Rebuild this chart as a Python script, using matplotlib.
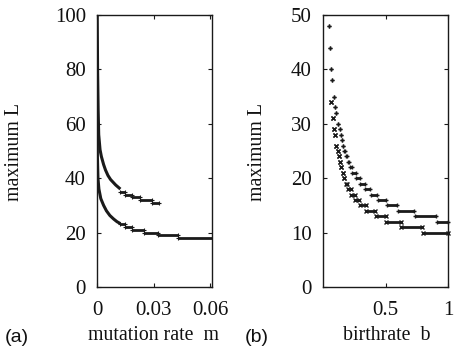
import numpy as np
import matplotlib
matplotlib.use("Agg")
import matplotlib.pyplot as plt

# ---- panel (a): maximum L vs mutation rate m ----
# steep part read as points along the curve
a_up_m = [0.0001, 0.0003, 0.0006, 0.0009, 0.0016, 0.0023, 0.0035, 0.0045, 0.0058, 0.0072, 0.0099, 0.0124]
a_up_L = [100, 80, 65, 56, 50.5, 48, 45, 43, 41, 39.5, 37.5, 36]
# flat steps: level, m start, m end
a_up_step_L = [35, 34, 33, 32, 31]
a_up_step_m0 = [0.0124, 0.0151, 0.0188, 0.0230, 0.0290]
a_up_step_m1 = [0.0151, 0.0188, 0.0230, 0.0290, 0.0331]

a_lo_m = [0.0001, 0.0002, 0.0005, 0.0010, 0.0020, 0.0035, 0.0050, 0.0068, 0.0088, 0.0106, 0.0124]
a_lo_L = [62, 48, 40, 36, 32.5, 30, 28, 26.3, 25, 24, 23.3]
a_lo_step_L = [23, 22, 21, 20, 19, 18]
a_lo_step_m0 = [0.0124, 0.0151, 0.0188, 0.0250, 0.0323, 0.0430]
a_lo_step_m1 = [0.0151, 0.0188, 0.0250, 0.0323, 0.0430, 0.0615]

# ---- panel (b): maximum L vs birthrate b ----
b_plus_L = [48, 44, 40, 38, 35, 33, 32, 30, 29, 28, 27, 26, 25, 24, 23,
            22, 21, 20, 19, 18, 17, 16, 15, 14, 13, 12]
b_plus_lo = [0.049, 0.055, 0.0625, 0.073, 0.086, 0.096, 0.107, 0.120, 0.133, 0.141, 0.151, 0.159,
             0.170, 0.183, 0.197, 0.212, 0.235, 0.262, 0.297, 0.338, 0.380, 0.440, 0.510,
             0.600, 0.735, 0.915]
b_plus_hi = [0.049, 0.055, 0.0625, 0.073, 0.086, 0.096, 0.107, 0.120, 0.133, 0.141, 0.151, 0.159,
             0.178, 0.192, 0.209, 0.232, 0.262, 0.295, 0.335, 0.378, 0.435, 0.505, 0.595,
             0.730, 0.900, 1.000]

b_x_L = [34, 31, 29, 28, 26, 25, 24, 23, 22, 21, 20, 19, 18, 17, 16, 15, 14, 13, 12, 11, 10]
b_x_lo = [0.065, 0.076, 0.086, 0.096, 0.107, 0.117, 0.128, 0.138, 0.146, 0.156, 0.169,
          0.183, 0.198, 0.225, 0.255, 0.293, 0.345, 0.420, 0.500, 0.620, 0.800]
b_x_hi = [0.065, 0.076, 0.086, 0.096, 0.107, 0.117, 0.128, 0.138, 0.146, 0.156, 0.169,
          0.195, 0.222, 0.252, 0.290, 0.342, 0.415, 0.500, 0.620, 0.795, 1.000]

ink = '#1a1a1a'
txt = '#111111'
serif = ['Liberation Serif', 'DejaVu Serif']
sans = ['Liberation Sans', 'DejaVu Sans']

fig = plt.figure(figsize=(4.54, 3.49), dpi=100)
ax1 = fig.add_axes([0.2137, 0.1777, 0.2533, 0.7793])
ax2 = fig.add_axes([0.7115, 0.1777, 0.2753, 0.7793])

# panel a
ax1.plot(a_up_m, a_up_L, '-', color=ink, lw=2.2, solid_capstyle='butt')
ax1.plot(a_lo_m, a_lo_L, '-', color=ink, lw=2.2, solid_capstyle='butt')
for L, m0, m1 in zip(a_up_step_L, a_up_step_m0, a_up_step_m1):
    ax1.plot([m0, m1], [L, L], '-', marker='+', ms=3, mew=0.8, color=ink, lw=2.0,
             solid_capstyle='butt')
for L, m0, m1 in zip(a_lo_step_L, a_lo_step_m0, a_lo_step_m1):
    ax1.plot([m0, m1], [L, L], '-', marker='+', ms=3, mew=0.8, color=ink, lw=2.0,
             solid_capstyle='butt')
ax1.set_xlim(0, 0.061)
ax1.set_ylim(0, 100)
ax1.set_xticks([0, 0.03, 0.06])
ax1.set_xticklabels(['0', '0.03', '0.06'])
ax1.set_yticks([0, 20, 40, 60, 80, 100])

# panel b
for L, lo, hi in zip(b_plus_L, b_plus_lo, b_plus_hi):
    ax2.plot([lo, hi], [L, L], '-', marker='+', ms=3.5, mew=1.0, color=ink, lw=2.0,
             solid_capstyle='butt', clip_on=False)
for L, lo, hi in zip(b_x_L, b_x_lo, b_x_hi):
    ax2.plot([lo, hi], [L, L], '-', marker='x', ms=3.0, mew=1.0, color=ink, lw=2.0,
             solid_capstyle='butt', clip_on=False)
ax2.set_xlim(0, 1)
ax2.set_ylim(0, 50)
ax2.set_xticks([0.5, 1])
ax2.set_xticklabels(['0.5', '1'])
ax2.set_yticks([0, 10, 20, 30, 40, 50])

for ax in (ax1, ax2):
    for s in ax.spines.values():
        s.set_color(ink)
        s.set_linewidth(1.0)
    ax.tick_params(direction='in', top=True, right=True, length=3, width=0.8, colors=ink)
    ax.tick_params(axis='x', pad=10)
    ax.tick_params(axis='y', pad=8)
    for t in ax.get_xticklabels() + ax.get_yticklabels():
        t.set_fontfamily(serif)
        t.set_fontsize(15)
        t.set_color(txt)

fig.text(15 / 454, 1 - 152 / 349, 'maximum L', rotation=90, ha='center', va='center',
         fontsize=14.3, family=serif, color=txt)
fig.text(258 / 454, 1 - 152 / 349, 'maximum L', rotation=90, ha='center', va='center',
         fontsize=14.3, family=serif, color=txt)
fig.text(153 / 454, 1 - 340 / 349, 'mutation rate  m', ha='center', va='baseline',
         fontsize=14.3, family=serif, color=txt)
fig.text(387 / 454, 1 - 340 / 349, 'birthrate  b', ha='center', va='baseline',
         fontsize=14.3, family=serif, color=txt)
fig.text(17 / 454, 1 - 342 / 349, '(a)', ha='center', va='baseline',
         fontsize=14, family=sans, color=txt)
fig.text(257 / 454, 1 - 342 / 349, '(b)', ha='center', va='baseline',
         fontsize=14, family=sans, color=txt)

fig.savefig('out.png', dpi=100, facecolor='white')
